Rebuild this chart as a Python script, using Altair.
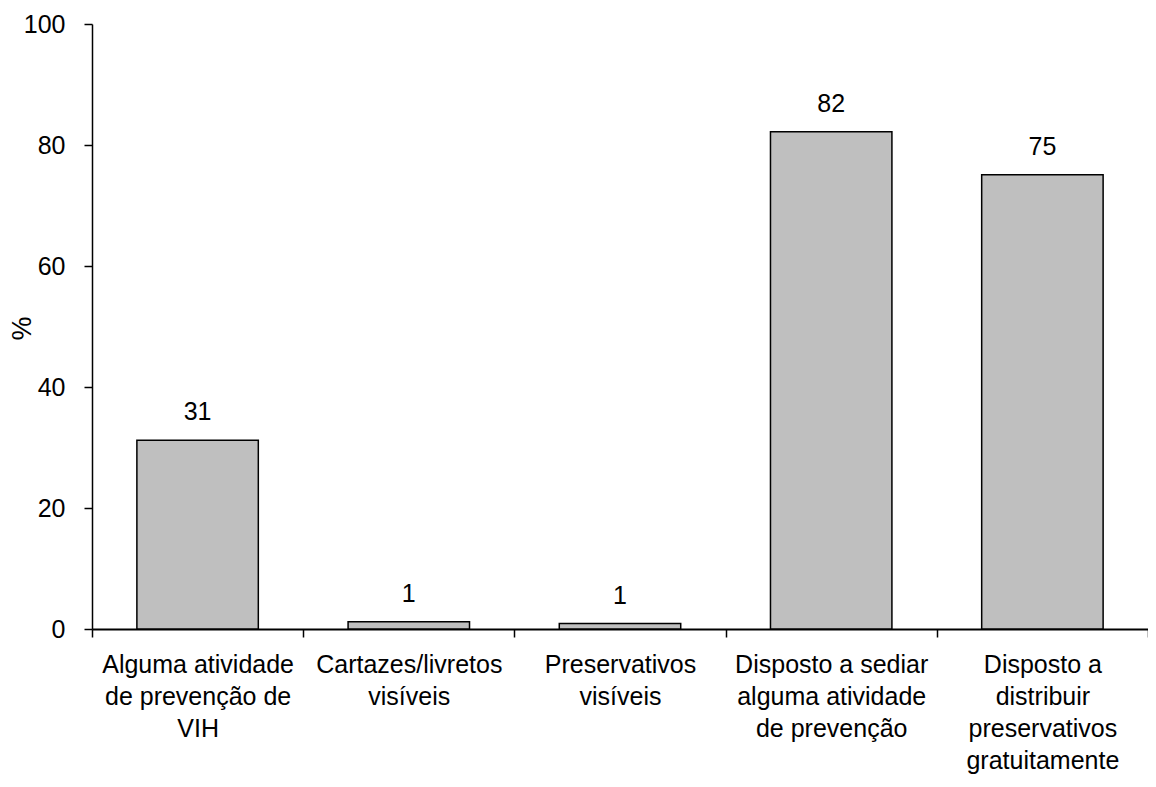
import altair as alt
import pandas as pd

categories = [
    "Alguma atividade|de prevenção de|VIH",
    "Cartazes/livretos|visíveis",
    "Preservativos|visíveis",
    "Disposto a sediar|alguma atividade|de prevenção",
    "Disposto a|distribuir|preservativos|gratuitamente",
]
values = [31.2, 1.2, 0.9, 82.2, 75.1]
labels = ["31", "1", "1", "82", "75"]
y_ticks = [0, 20, 40, 60, 80, 100]

df = pd.DataFrame({"cat": categories, "val": values, "lab": labels})

FONT = "Liberation Sans"
FS = 25

xscale = alt.Scale(paddingInner=0, paddingOuter=0)

bars = alt.Chart(df).mark_bar(
    fill="#bfbfbf", stroke="black", strokeWidth=1.5,
    width=alt.RelativeBandSize(0.575),
).encode(
    x=alt.X(
        "cat:N", sort=None, scale=xscale,
        axis=alt.Axis(
            title=None, orient="bottom", labelAngle=0,
            labelExpr="split(datum.label, '|')",
            ticks=True, tickBand="extent", tickSize=8,
            tickColor="black", tickWidth=1.5,
            domain=True, domainColor="black", domainWidth=1.8,
            labelFont=FONT, labelFontSize=FS, labelColor="black",
            labelLineHeight=32, labelPadding=15, labelBaseline="top",
            labelLimit=0,
        ),
    ),
    y=alt.Y(
        "val:Q", scale=alt.Scale(domain=[0, 100]),
        axis=alt.Axis(
            values=y_ticks, title="%", grid=False,
            domainColor="black", domainWidth=1.5,
            tickColor="black", tickWidth=1.5, tickSize=8,
            labelFont=FONT, labelFontSize=FS, labelColor="black",
            labelPadding=19,
            titleFont=FONT, titleFontSize=27, titleFontWeight="normal",
            titleColor="black", titleAngle=270, titleBaseline="middle",
            titleAlign="center", titleX=-70, titleY=304,
        ),
    ),
)

text = alt.Chart(df).mark_text(
    font=FONT, fontSize=FS, color="black", baseline="bottom", dy=-15
).encode(
    x=alt.X("cat:N", sort=None),
    y=alt.Y("val:Q"),
    text=alt.Text("lab:N"),
)

chart = alt.layer(bars, text).properties(
    width=1056, height=605,
    background="white",
    autosize=alt.AutoSizeParams(type="none"),
    padding={"left": 84, "top": 16, "right": 0, "bottom": 150},
).configure_view(stroke=None)

chart.save("out.html", embed_options={"renderer": "svg", "actions": False})
